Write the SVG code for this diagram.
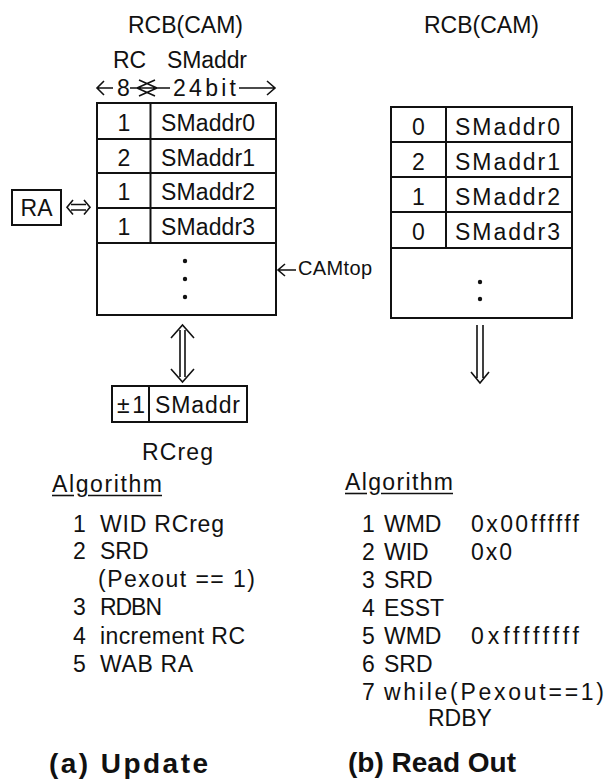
<svg xmlns="http://www.w3.org/2000/svg" width="606" height="781" viewBox="0 0 606 781">
<defs>
<style>
text{font-family:"Liberation Sans",Arial,sans-serif;font-size:23px;fill:#111}
.b{font-weight:bold;font-size:28px}
.sm{font-size:20px}
.box{fill:none;stroke:#111;stroke-width:2}
.ln{fill:none;stroke:#111;stroke-width:2}
.thin{fill:none;stroke:#111;stroke-width:1.6;stroke-linejoin:miter}
.mid{text-anchor:middle}
</style>
</defs>
<rect width="606" height="781" fill="#fff"/>

<!-- Left panel (a) -->
<g id="left-header">
<text x="128" y="33" textLength="115">RCB(CAM)</text>
<text x="113" y="68">RC</text>
<text x="167" y="68" textLength="80">SMaddr</text>
<text x="117" y="96" font-size="22">8</text>
<text x="173" y="96" textLength="63">24bit</text>
</g>

<g id="left-table">
<rect class="box" x="97" y="103" width="179" height="212"/>
<line class="ln" x1="150.5" y1="103" x2="150.5" y2="243"/>
<line class="ln" x1="97" y1="139" x2="276" y2="139"/>
<line class="ln" x1="97" y1="173" x2="276" y2="173"/>
<line class="ln" x1="97" y1="208" x2="276" y2="208"/>
<line class="ln" x1="97" y1="243" x2="276" y2="243"/>
<text class="mid" x="124" y="131">1</text>
<text class="mid" x="124" y="166">2</text>
<text class="mid" x="124" y="200">1</text>
<text class="mid" x="124" y="235">1</text>
<text x="161" y="131" textLength="94">SMaddr0</text>
<text x="161" y="166" textLength="94">SMaddr1</text>
<text x="161" y="200" textLength="94">SMaddr2</text>
<text x="161" y="235" textLength="94">SMaddr3</text>
<circle cx="185" cy="261" r="2.2" fill="#111"/>
<circle cx="185" cy="279" r="2.2" fill="#111"/>
<circle cx="185" cy="297" r="2.2" fill="#111"/>
</g>

<g id="ra">
<rect class="box" x="12" y="190" width="49" height="35"/>
<text class="mid" x="36.5" y="216">RA</text>
</g>

<g id="camtop-label">
<text class="sm" x="298" y="275" textLength="74">CAMtop</text>
</g>

<g id="rcreg">
<rect class="box" x="112" y="386" width="135" height="36"/>
<line class="ln" x1="149" y1="386" x2="149" y2="422"/>
<text x="117" y="413" textLength="28">±1</text>
<text x="155" y="413" textLength="85">SMaddr</text>
<text x="142" y="460" textLength="71">RCreg</text>
</g>

<g id="left-algorithm">
<text x="52" y="492" textLength="110">Algorithm</text>
<line x1="52" y1="495.5" x2="74" y2="495.5" stroke="#111" stroke-width="1.6"/>
<line x1="88" y1="495.5" x2="162" y2="495.5" stroke="#111" stroke-width="1.6"/>
<text x="73" y="532">1</text><text x="100" y="532" textLength="124">WID RCreg</text>
<text x="73" y="559">2</text><text x="100" y="559">SRD</text>
<text x="98" y="587" textLength="157">(Pexout == 1)</text>
<text x="73" y="615">3</text><text x="100" y="615" textLength="62">RDBN</text>
<text x="73" y="644">4</text><text x="100" y="644" textLength="145">increment RC</text>
<text x="73" y="672">5</text><text x="100" y="672" textLength="93">WAB RA</text>
</g>

<g id="caption-a">
<text class="b" x="49" y="773" textLength="159">(a) Update</text>
</g>

<!-- Right panel (b) -->
<g id="right-header">
<text x="424" y="33" font-size="22">RCB(CAM)</text>
</g>

<g id="right-table">
<rect class="box" x="391" y="107" width="181" height="211"/>
<line class="ln" x1="446" y1="107" x2="446" y2="248"/>
<line class="ln" x1="391" y1="142" x2="572" y2="142"/>
<line class="ln" x1="391" y1="177" x2="572" y2="177"/>
<line class="ln" x1="391" y1="212" x2="572" y2="212"/>
<line class="ln" x1="391" y1="248" x2="572" y2="248"/>
<text class="mid" x="418.5" y="135">0</text>
<text class="mid" x="418.5" y="170">2</text>
<text class="mid" x="418.5" y="205">1</text>
<text class="mid" x="418.5" y="240">0</text>
<text x="455" y="135" textLength="105">SMaddr0</text>
<text x="455" y="170" textLength="105">SMaddr1</text>
<text x="455" y="205" textLength="105">SMaddr2</text>
<text x="455" y="240" textLength="105">SMaddr3</text>
<circle cx="480" cy="282" r="2.2" fill="#111"/>
<circle cx="480" cy="299" r="2.2" fill="#111"/>
</g>

<g id="right-algorithm">
<text x="345" y="490" textLength="108">Algorithm</text>
<line x1="345" y1="493.5" x2="367" y2="493.5" stroke="#111" stroke-width="1.6"/>
<line x1="381" y1="493.5" x2="453" y2="493.5" stroke="#111" stroke-width="1.6"/>
<text x="362" y="532">1</text><text x="384" y="532">WMD</text><text x="471" y="532" textLength="108">0x00ffffff</text>
<text x="362" y="560">2</text><text x="384" y="560">WID</text><text x="471" y="560" textLength="41">0x0</text>
<text x="362" y="588">3</text><text x="384" y="588">SRD</text>
<text x="362" y="616">4</text><text x="384" y="616">ESST</text>
<text x="362" y="644">5</text><text x="384" y="644">WMD</text><text x="471" y="644" textLength="108">0xffffffff</text>
<text x="362" y="672">6</text><text x="384" y="672">SRD</text>
<text x="362" y="700">7</text><text x="384" y="700" textLength="220">while(Pexout==1)</text>
<text x="428" y="726">RDBY</text>
</g>

<g id="caption-b">
<text class="b" x="348" y="772" font-size="25">(b) Read Out</text>
</g>

<!-- Connectors -->
<g id="connectors">
<!-- width dimension arrows -->
<path class="thin" d="M97,88 L113,88 M104,81 L97,88 L104,95"/>
<path class="thin" d="M130,88 L170,88 M139,80 L157,88 L139,96 M155,80 L137,88 L155,96"/>
<path class="thin" d="M239,88 L275,88 M267,81 L275,88 L267,95"/>
<!-- RA <=> table -->
<path class="thin" d="M71,204.5 L86,204.5 M71,210 L86,210 M73,200 L67,207.25 L73,214.5 M84,200 L90,207.25 L84,214.5"/>
<!-- CAMtop arrow -->
<path class="thin" d="M278,270 L296,270 M285,264 L278,270 L285,276"/>
<!-- table <=> RCreg -->
<path class="thin" d="M180,330 L180,377 M185,330 L185,377 M171,338 L182.5,325 L194,338 M171,369 L182.5,382 L194,369"/>
<!-- right table => -->
<path class="thin" d="M477,325 L477,378 M483,325 L483,378 M471,372 L480,383 L489,372"/>
</g>
</svg>
